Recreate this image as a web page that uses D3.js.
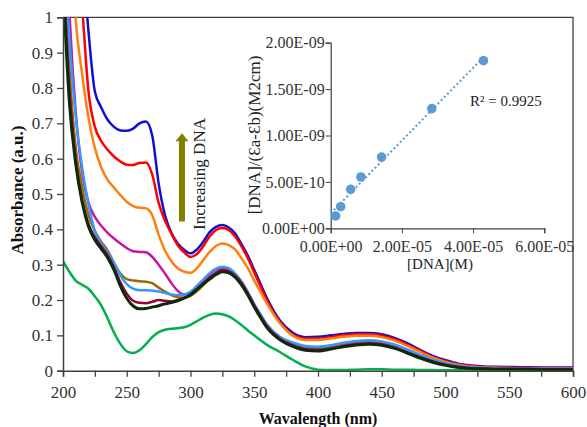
<html>
<head>
  <style>
    body { margin: 0; background: white; }
    svg { font-family: "Liberation Serif", "Times New Roman", serif; }
  </style>
</head>
<body>
  <svg id="chart" width="587" height="427"></svg>
  <script src="https://cdn.jsdelivr.net/npm/d3@7"></script>
  <script>
    // wavelength grid (nm)
    var wavelengths = [200, 205, 210, 215, 220, 225, 230, 235, 240, 245, 250, 255, 260, 265, 270, 275, 280, 285, 290, 295,
      300, 305, 310, 315, 320, 325, 330, 335, 340, 345, 350, 355, 360, 370, 380, 390, 400, 410, 420, 430,
      440, 450, 460, 470, 480, 490, 500, 510, 520, 530, 540, 560, 580, 600];

    // absorbance of each spectrum, same order as wavelengths
    var absGreen = [0.31, 0.28, 0.255, 0.243, 0.232, 0.21, 0.185, 0.148, 0.108, 0.076, 0.055, 0.05, 0.058,
      0.075, 0.095, 0.109, 0.116, 0.119, 0.12, 0.123, 0.13, 0.14, 0.15, 0.158, 0.162, 0.16, 0.154, 0.143, 0.129, 0.114, 0.1, 0.086, 0.073,
      0.053, 0.031, 0.012, 0.003, 0.002, 0.002, 0.003, 0.004, 0.004, 0.003, 0.003, 0.002, 0.002, 0.001, 0.001, 0.001, 0.001, 0.001, 0.001, 0.001, 0.001];
    var absBlue = [2.2, 1.85, 1.5, 1.2, 0.96, 0.79, 0.745, 0.71, 0.69, 0.68, 0.679, 0.685, 0.7,
      0.705, 0.665, 0.53, 0.44, 0.39, 0.36, 0.342, 0.332, 0.343, 0.365, 0.392, 0.407, 0.412, 0.405, 0.388, 0.358, 0.325, 0.285, 0.245, 0.205,
      0.143, 0.108, 0.095, 0.096, 0.1, 0.104, 0.107, 0.107, 0.103, 0.093, 0.078, 0.059, 0.042, 0.03, 0.02, 0.015, 0.012, 0.011, 0.01, 0.009, 0.009];
    var absRed = [1.9, 1.55, 1.25, 1.03, 0.79, 0.69, 0.65, 0.625, 0.606, 0.592, 0.583, 0.582, 0.588,
      0.589, 0.555, 0.475, 0.425, 0.388, 0.355, 0.335, 0.322, 0.33, 0.352, 0.38, 0.398, 0.404, 0.398, 0.38, 0.352, 0.318, 0.278, 0.238, 0.198,
      0.138, 0.103, 0.091, 0.091, 0.095, 0.1, 0.103, 0.103, 0.099, 0.089, 0.074, 0.056, 0.039, 0.027, 0.018, 0.013, 0.01, 0.009, 0.008, 0.007, 0.007];
    var absOrange = [1.7, 1.3, 0.99, 0.84, 0.715, 0.63, 0.575, 0.54, 0.518, 0.497, 0.478, 0.466, 0.461,
      0.46, 0.44, 0.385, 0.34, 0.31, 0.29, 0.28, 0.277, 0.29, 0.313, 0.336, 0.353, 0.36, 0.355, 0.343, 0.318, 0.29, 0.255, 0.222, 0.19,
      0.135, 0.1, 0.087, 0.087, 0.091, 0.096, 0.099, 0.099, 0.095, 0.085, 0.07, 0.053, 0.037, 0.025, 0.016, 0.011, 0.009, 0.008, 0.007, 0.006, 0.006];
    var absMagenta = [1.5, 1.02, 0.73, 0.56, 0.475, 0.435, 0.41, 0.39, 0.374, 0.36, 0.347, 0.338, 0.336,
      0.335, 0.322, 0.3, 0.275, 0.248, 0.226, 0.216, 0.222, 0.238, 0.256, 0.273, 0.285, 0.29, 0.286, 0.274, 0.252, 0.222, 0.188, 0.158, 0.13,
      0.094, 0.075, 0.065, 0.063, 0.067, 0.074, 0.079, 0.081, 0.078, 0.069, 0.056, 0.041, 0.028, 0.018, 0.012, 0.009, 0.007, 0.006, 0.006, 0.005, 0.005];
    var absBrown = [1.25, 0.86, 0.63, 0.52, 0.44, 0.395, 0.365, 0.34, 0.305, 0.275, 0.259, 0.255, 0.253,
      0.252, 0.248, 0.235, 0.224, 0.214, 0.208, 0.207, 0.212, 0.225, 0.242, 0.26, 0.274, 0.281, 0.278, 0.266, 0.245, 0.216, 0.184, 0.154, 0.126,
      0.091, 0.072, 0.062, 0.06, 0.064, 0.071, 0.076, 0.078, 0.075, 0.066, 0.053, 0.039, 0.027, 0.018, 0.011, 0.008, 0.006, 0.005, 0.005, 0.004, 0.004];
    var absLightBlue = [1.3, 0.94, 0.72, 0.575, 0.47, 0.395, 0.36, 0.335, 0.305, 0.27, 0.245, 0.232, 0.228,
      0.228, 0.227, 0.224, 0.22, 0.216, 0.214, 0.215, 0.223, 0.24, 0.258, 0.276, 0.289, 0.294, 0.29, 0.275, 0.252, 0.222, 0.188, 0.158, 0.13,
      0.096, 0.08, 0.07, 0.068, 0.072, 0.079, 0.084, 0.086, 0.083, 0.074, 0.06, 0.045, 0.031, 0.021, 0.014, 0.01, 0.008, 0.007, 0.006, 0.005, 0.005];
    var absDarkRed = [1.15, 0.8, 0.595, 0.485, 0.415, 0.378, 0.352, 0.327, 0.292, 0.25, 0.218, 0.198, 0.192,
      0.191, 0.195, 0.2, 0.198, 0.196, 0.2, 0.206, 0.216, 0.231, 0.248, 0.264, 0.277, 0.284, 0.281, 0.269, 0.248, 0.218, 0.185, 0.154, 0.126,
      0.091, 0.072, 0.061, 0.059, 0.063, 0.07, 0.075, 0.077, 0.074, 0.065, 0.052, 0.038, 0.026, 0.017, 0.011, 0.007, 0.006, 0.005, 0.005, 0.004, 0.004];
    var absDark = [1.1, 0.76, 0.585, 0.477, 0.408, 0.37, 0.345, 0.32, 0.285, 0.24, 0.205, 0.183, 0.175,
      0.176, 0.18, 0.184, 0.189, 0.193, 0.198, 0.205, 0.215, 0.23, 0.245, 0.259, 0.272, 0.28, 0.277, 0.265, 0.243, 0.214, 0.18, 0.15, 0.122,
      0.088, 0.069, 0.058, 0.056, 0.061, 0.068, 0.073, 0.075, 0.072, 0.063, 0.05, 0.036, 0.024, 0.015, 0.009, 0.006, 0.005, 0.004, 0.004, 0.003, 0.003];

    var seriesList = [
      { values: absGreen, color: "#00b050", width: 2.5 },
      { values: absBlue, color: "#1010d0", width: 2.5 },
      { values: absRed, color: "#ff0000", width: 2.5 },
      { values: absOrange, color: "#ff7f0e", width: 2.5 },
      { values: absMagenta, color: "#c8179f", width: 2.5 },
      { values: absBrown, color: "#9a6a08", width: 2.5 },
      { values: absLightBlue, color: "#3399ff", width: 2.5 },
      { values: absDarkRed, color: "#990033", width: 2.5 },
      { values: absDark, color: "#0b2b0b", width: 3 }
    ];

    var xTicks = [200, 250, 300, 350, 400, 450, 500, 550, 600];
    var yTicks = [0, 0.1, 0.2, 0.3, 0.4, 0.5, 0.6, 0.7, 0.8, 0.9, 1];

    // inset: Wolfe-Shimer plot
    var dnaConc = [1.4e-6, 2.8e-6, 5.6e-6, 8.5e-6, 1.43e-5, 2.84e-5, 4.29e-5];
    var dnaRatio = [1.33e-10, 2.33e-10, 4.2e-10, 5.53e-10, 7.68e-10, 1.29e-9, 1.806e-9];
    var insetXTicks = [0, 2e-5, 4e-5, 6e-5];
    var insetYTicks = [0, 5e-10, 1e-9, 1.5e-9, 2e-9];

    var svg = d3.select("#chart");
    var plot = { left: 63, right: 573, top: 17.3, bottom: 370.7 };

    var x = d3.scaleLinear().domain([200, 600]).range([plot.left, plot.right]);
    var y = d3.scaleLinear().domain([0, 1]).range([plot.bottom, plot.top]);

    svg.append("defs").append("clipPath").attr("id", "plotClip")
      .append("rect")
      .attr("x", plot.left).attr("y", plot.top)
      .attr("width", plot.right - plot.left).attr("height", plot.bottom - plot.top);

    // plot area frame (top and right)
    svg.append("path")
      .attr("d", "M" + plot.left + "," + plot.top + "H" + plot.right + "V" + plot.bottom)
      .attr("fill", "none").attr("stroke", "#404040").attr("stroke-width", 1.3);

    // curves
    var line = d3.line()
      .x(function (d, i) { return x(wavelengths[i]); })
      .y(function (d) { return y(d); })
      .curve(d3.curveMonotoneX);

    svg.append("g").attr("clip-path", "url(#plotClip)")
      .selectAll("path")
      .data(seriesList)
      .join("path")
      .attr("d", function (s) { return line(s.values); })
      .attr("fill", "none")
      .attr("stroke", function (s) { return s.color; })
      .attr("stroke-width", function (s) { return s.width; })
      .attr("stroke-linejoin", "round");

    // axes
    var xAxis = d3.axisBottom(x).tickValues(d3.range(200, 601, 25)).tickSize(6)
      .tickFormat(function (d) { return xTicks.indexOf(d) >= 0 ? d : ""; });
    var gx = svg.append("g").attr("transform", "translate(0," + plot.bottom + ")").call(xAxis);
    var yAxis = d3.axisLeft(y).tickValues(yTicks).tickSize(6).tickFormat(d3.format("~g"));
    var gy = svg.append("g").attr("transform", "translate(" + plot.left + ",0)").call(yAxis);

    [gx, gy].forEach(function (g) {
      g.select(".domain").attr("stroke", "#404040").attr("stroke-width", 1.5);
      g.selectAll(".tick line").attr("stroke", "#404040").attr("stroke-width", 1.3);
      g.selectAll(".tick text")
        .attr("font-family", "Liberation Serif, serif")
        .attr("font-size", 17).attr("fill", "#333");
    });
    gx.selectAll(".tick text").attr("dy", "1.05em");
    gy.selectAll(".tick text").attr("x", -10);

    svg.append("text")
      .attr("x", (plot.left + plot.right) / 2).attr("y", 424)
      .attr("text-anchor", "middle")
      .attr("font-size", 16).attr("font-weight", "bold").attr("fill", "#111")
      .text("Wavalength (nm)");

    svg.append("text")
      .attr("transform", "translate(17,190) rotate(-90)")
      .attr("text-anchor", "middle").attr("dominant-baseline", "central")
      .attr("font-size", 17).attr("font-weight", "bold").attr("fill", "#111")
      .text("Absorbance (a.u.)");

    // arrow "Increasing DNA"
    var ax = x(293.3);
    var arrowTop = y(0.672), arrowBase = y(0.649), arrowBottom = y(0.422);
    svg.append("path")
      .attr("d", "M" + (ax - 3) + "," + arrowBottom + "V" + arrowBase + "H" + (ax - 6.5) +
        "L" + ax + "," + arrowTop + "L" + (ax + 6.5) + "," + arrowBase + "H" + (ax + 3) + "V" + arrowBottom + "Z")
      .attr("fill", "#7f7f00");
    svg.append("text")
      .attr("transform", "translate(199,174) rotate(-90)")
      .attr("text-anchor", "middle").attr("dominant-baseline", "central")
      .attr("font-size", 17).attr("fill", "#222")
      .text("Increasing DNA");

    // inset chart
    var ix = d3.scaleLinear().domain([0, 6e-5]).range([330.7, 544.3]);
    var iy = d3.scaleLinear().domain([0, 2e-9]).range([228.3, 42.7]);

    function excelExp(d) {
      return d.toExponential(2).toUpperCase().replace(/E([+-])(\d)$/, "E$10$2");
    }

    var igx = svg.append("g").attr("transform", "translate(0," + iy(0) + ")")
      .call(d3.axisBottom(ix).tickValues(insetXTicks).tickSize(5).tickFormat(excelExp));
    var igy = svg.append("g").attr("transform", "translate(" + ix(0) + ",0)")
      .call(d3.axisLeft(iy).tickValues(insetYTicks).tickSize(5).tickFormat(excelExp));
    [igx, igy].forEach(function (g) {
      g.select(".domain").attr("stroke", "#404040").attr("stroke-width", 1.2);
      g.selectAll(".tick line").attr("stroke", "#404040");
      g.selectAll(".tick text")
        .attr("font-family", "Liberation Serif, serif")
        .attr("font-size", 16).attr("fill", "#333");
    });
    igx.selectAll(".tick text").attr("dy", "1em");
    igy.selectAll(".tick text").attr("x", -6);

    // least-squares trend line
    var mx = d3.mean(dnaConc), my = d3.mean(dnaRatio);
    var sxy = d3.sum(dnaConc, function (d, i) { return (d - mx) * (dnaRatio[i] - my); });
    var sxx = d3.sum(dnaConc, function (d) { return (d - mx) * (d - mx); });
    var slope = sxy / sxx, intercept = my - slope * mx;
    var trendX = [0, d3.max(dnaConc)];
    svg.append("path")
      .attr("d", d3.line()
        .x(function (d) { return ix(d); })
        .y(function (d) { return iy(intercept + slope * d); })(trendX))
      .attr("fill", "none").attr("stroke", "#5b9bd5")
      .attr("stroke-width", 2).attr("stroke-dasharray", "2,2.5");

    svg.append("g").selectAll("circle")
      .data(dnaConc)
      .join("circle")
      .attr("cx", function (d) { return ix(d); })
      .attr("cy", function (d, i) { return iy(dnaRatio[i]); })
      .attr("r", 4.8)
      .attr("fill", "#5b9bd5");

    svg.append("text")
      .attr("x", 470).attr("y", 106)
      .attr("font-size", 15).attr("fill", "#222")
      .text("R² = 0.9925");

    svg.append("text")
      .attr("x", 440).attr("y", 269)
      .attr("text-anchor", "middle")
      .attr("font-size", 15).attr("fill", "#222")
      .text("[DNA](M)");

    svg.append("text")
      .attr("transform", "translate(254,135) rotate(-90)")
      .attr("text-anchor", "middle").attr("dominant-baseline", "central")
      .attr("font-size", 17).attr("fill", "#222")
      .text("[DNA]/(Ɛa-Ɛb)(M2cm)");
  </script>
</body>
</html>
